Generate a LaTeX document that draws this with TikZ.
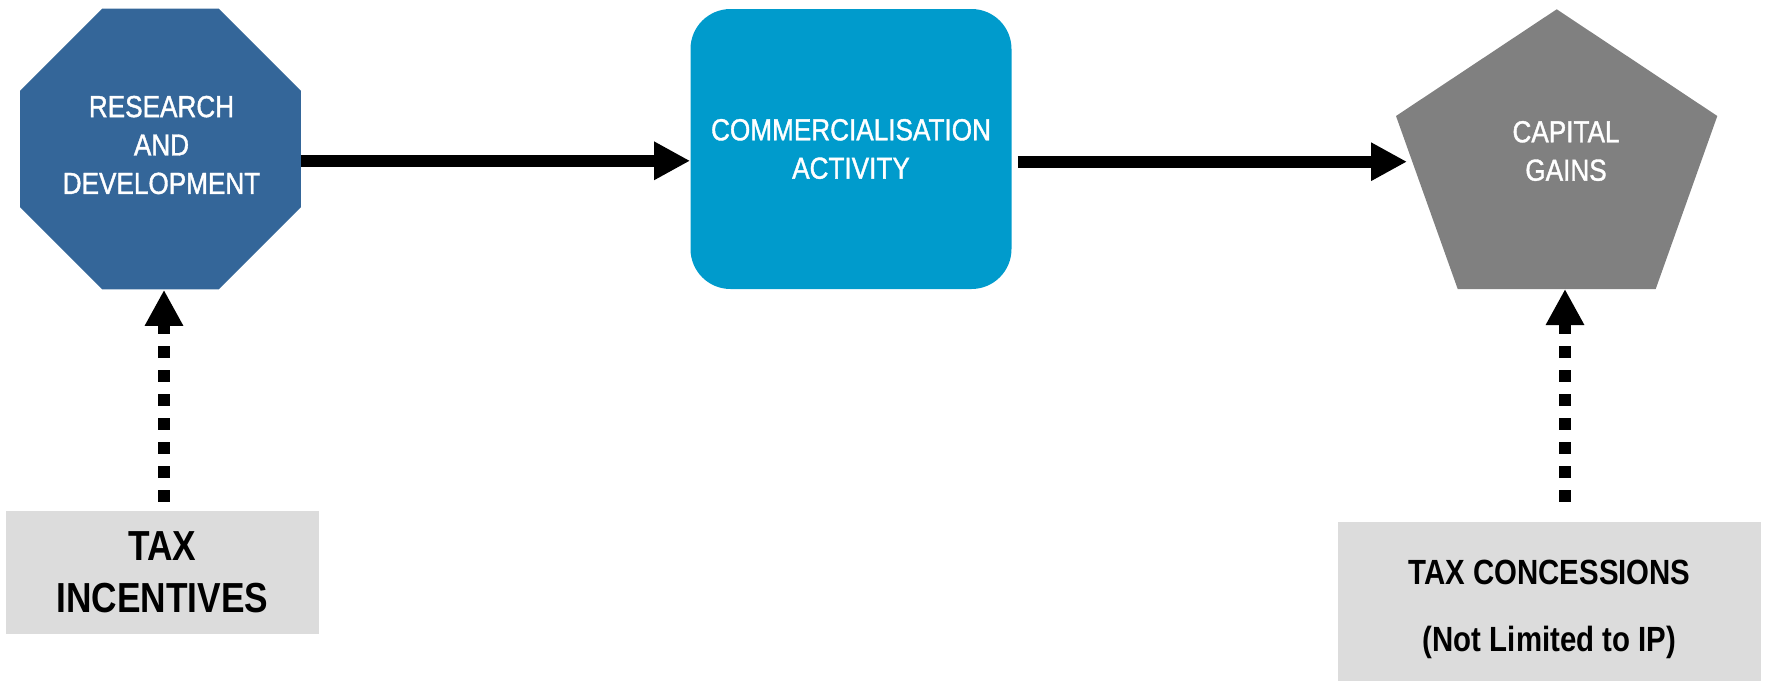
\documentclass[tikz,border=0pt]{standalone}
\usepackage{fontspec}
\setmainfont{Liberation Sans}[FakeStretch=0.86,FakeBold=1.2]
\newfontfamily\boxfont{Liberation Sans}[FakeStretch=0.84]
\usetikzlibrary{shapes.geometric,arrows.meta}
\definecolor{rdblue}{HTML}{346699}
\definecolor{cablue}{HTML}{009BCC}
\definecolor{cggray}{HTML}{808080}
\definecolor{boxgray}{HTML}{DCDCDC}
\tikzset{
  shapetext/.style={text=white,align=center,font=\fontsize{15.2}{19.2}\selectfont,inner sep=0pt},
  taxbox/.style={fill=boxgray,align=center,inner sep=0pt},
  solidarrow/.style={line width=6pt,-{Triangle[length=18pt,width=18pt]}},
  dotarrow/.style={line width=6pt,dash pattern=on 6pt off 6pt,-{Triangle[length=18pt,width=18pt]}}
}
\begin{document}
\begin{tikzpicture}[x=0.5pt,y=-0.5pt]
\useasboundingbox (0,0) rectangle (1773,681);
% Research and development
\node[regular polygon,regular polygon sides=8,minimum size=152pt,fill=rdblue,inner sep=0pt] (rd) at (160.5,149) {};
\node[shapetext] (rdtext) at (161.5,145) {RESEARCH\\AND\\DEVELOPMENT};
% Commercialisation
\node[rectangle,rounded corners=20pt,minimum width=160.5pt,minimum height=140pt,fill=cablue,shapetext] (ca) at (851,149) {COMMERCIALISATION\\ACTIVITY};
% Capital gains pentagon
\fill[cggray] (1556.7,9.3) -- (1717.3,116) -- (1655.7,289) -- (1457.7,289) -- (1396,116) -- cycle;
\node[shapetext] (cg) at (1566,151) {CAPITAL\\GAINS};
\coordinate (cgleft) at (1407,161.7);
\coordinate (cgbot) at (1565,289);
% Tax boxes
\node[taxbox,minimum width=156.5pt,minimum height=61.5pt,font=\boxfont\bfseries\fontsize{21}{26}\selectfont] (ti) at (162.5,572.5) {TAX\\INCENTIVES};
\node[taxbox,minimum width=211.5pt,minimum height=79.5pt] (tcbox) at (1549.5,601.5) {};
\node[align=center,inner sep=0pt,font=\boxfont\bfseries\fontsize{17.5}{33.5}\selectfont] (tc) at (1549.5,609) {TAX CONCESSIONS\\(Not Limited to IP)};
% Connectors
\draw[solidarrow] (rd.east |- 0,160.8) -- (ca.west |- 0,160.8);
\draw[solidarrow,shorten <=3pt] (ca.east |- cgleft) -- (cgleft);
\draw[dotarrow,shorten <=4.5pt] (ti.north -| 164,0) -- (rd.south -| 164,0);
\draw[dotarrow,shorten <=10pt] (cgbot |- tcbox.north) -- (cgbot);
\end{tikzpicture}
\end{document}
